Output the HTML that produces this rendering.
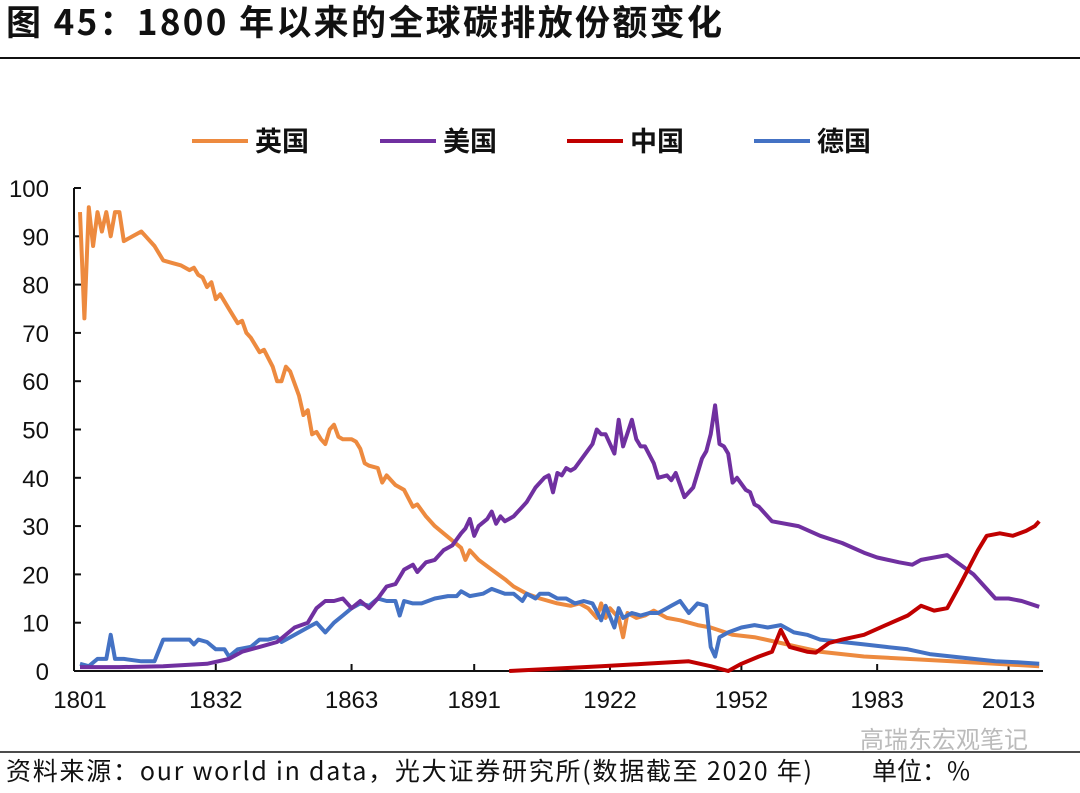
<!DOCTYPE html>
<html><head><meta charset="utf-8">
<style>
body{margin:0;background:#fff;width:1080px;height:788px;overflow:hidden;font-family:"Liberation Sans","Noto Sans CJK SC",sans-serif;}
</style></head>
<body>
<svg id="chart" width="1080" height="788" xmlns="http://www.w3.org/2000/svg" font-family="Liberation Sans, Noto Sans CJK SC, sans-serif">
<text x="6" y="35" font-size="35" font-weight="bold" fill="#111" font-family="Noto Sans CJK SC, sans-serif" textLength="716">图 45：1800 年以来的全球碳排放份额变化</text>
<line x1="0" y1="58" x2="1080" y2="58" stroke="#111" stroke-width="2"/>
<g id="legend" font-size="27" font-family="Noto Sans CJK SC, sans-serif" font-weight="bold" fill="#111">
<g><line x1="192" y1="141" x2="248" y2="141" stroke="#ED8A3F" stroke-width="4"/><text x="255" y="151">英国</text></g>
<g><line x1="380" y1="141" x2="436" y2="141" stroke="#7030A0" stroke-width="4"/><text x="443" y="151">美国</text></g>
<g><line x1="567" y1="141" x2="623" y2="141" stroke="#C00000" stroke-width="4"/><text x="630" y="151">中国</text></g>
<g><line x1="754" y1="141" x2="810" y2="141" stroke="#4472C4" stroke-width="4"/><text x="817" y="151">德国</text></g>
</g>
<g id="axes"></g>
<g id="series"></g>
<line x1="0" y1="752" x2="1080" y2="752" stroke="#111" stroke-width="1.5"/>
<text x="860" y="748" font-size="24" fill="#bbb" font-family="Noto Sans CJK SC, sans-serif">高瑞东宏观笔记</text>
<text x="6" y="780" font-size="25" fill="#111" font-family="Noto Sans CJK SC, sans-serif" textLength="806">资料来源：our world in data，光大证券研究所(数据截至 2020 年)</text>
<text x="872" y="780" font-size="25" fill="#111" font-family="Noto Sans CJK SC, sans-serif">单位：%</text>
</svg>
<script>
const yTicks=[0,10,20,30,40,50,60,70,80,90,100];
const xTickYears=[1801,1832,1863,1891,1922,1952,1983,2013];
const ukYears=[1801,1802,1803,1804,1805,1806,1807,1808,1809,1810,1811,1813,1815,1816,1818,1820,1822,1824,1826,1827,1828,1829,1830,1831,1832,1833,1835,1837,1838,1839,1840,1842,1843,1845,1846,1847,1848,1849,1851,1852,1853,1854,1855,1856,1857,1858,1859,1860,1861,1863,1864,1865,1866,1867,1869,1870,1871,1873,1875,1877,1878,1880,1882,1884,1886,1888,1889,1890,1892,1895,1898,1900,1903,1906,1910,1913,1915,1917,1919,1920,1921,1922,1924,1925,1926,1928,1930,1932,1935,1938,1942,1945,1950,1955,1960,1965,1970,1975,1980,1990,2000,2010,2020];
const ukValues=[95,73,96,88,95,91,95,90,95,95,89,90,91,90,88,85,84.5,84,83,83.5,82,81.5,79.5,80.5,77,78,75,72,72.5,70,69,66,66.5,63,60,60,63,62,57,53,54,49,49.5,48,47,50,51,48.5,48,48,47.5,46,43,42.5,42,39,40.5,38.5,37.5,34,34.5,32,30,28.5,27,25.5,23,25,23,21,19,17.5,16,15,14,13.5,14,13,11,14,11,13,11,7,12,11,11.5,12.5,11,10.5,9.5,9,7.5,7,6,5,4,3.5,3,2.5,2,1.5,1];
const usYears=[1801,1810,1820,1830,1835,1838,1842,1846,1850,1853,1855,1857,1859,1861,1863,1865,1867,1869,1871,1873,1875,1877,1878,1880,1882,1884,1886,1888,1889,1890,1891,1892,1894,1895,1896,1897,1898,1900,1902,1903,1905,1907,1908,1909,1910,1911,1912,1913,1914,1916,1918,1919,1920,1921,1923,1924,1925,1927,1928,1929,1930,1932,1933,1935,1936,1937,1938,1939,1941,1943,1944,1945,1946,1947,1948,1949,1950,1951,1953,1954,1955,1956,1959,1965,1970,1975,1980,1983,1988,1991,1993,1999,2002,2005,2008,2010,2013,2016,2020];
const usValues=[0.8,0.8,1,1.5,2.5,4,5,6,9,10,13,14.5,14.5,15,13,14.5,13,15,17.5,18,21,22,20.5,22.5,23,25,26,28.5,29.5,31.5,28,30,31.5,33,30.5,32,31,32,34,35,38,40,40.5,37,41,40.5,42,41.5,42,44.5,47,50,49,49,45,52,46.5,52,48,46.5,46.5,43,40,40.5,39.5,41,38.5,36,38,44,45.5,49,55,47,46.5,45,39,40,37.5,37,34.5,34,31,30,28,26.5,24.5,23.5,22.5,22,23,24,22,20,17,15,15,14.5,13.3];
const cnYears=[1899,1920,1930,1940,1945,1949,1952,1956,1959,1961,1963,1967,1969,1972,1975,1980,1985,1990,1993,1996,1999,2002,2006,2008,2011,2014,2017,2019,2020];
const cnValues=[0,1,1.5,2,1,0,1.5,3,4,8.5,5,4,3.8,5.8,6.5,7.5,9.5,11.5,13.5,12.5,13,18,25,28,28.5,28,29,30,31];
const deYears=[1801,1803,1805,1807,1808,1809,1811,1815,1818,1820,1822,1824,1826,1827,1828,1830,1832,1834,1835,1837,1840,1842,1844,1846,1847,1849,1851,1853,1855,1857,1859,1861,1863,1865,1867,1869,1871,1873,1874,1875,1877,1879,1882,1885,1887,1888,1890,1893,1895,1898,1900,1902,1903,1905,1906,1908,1910,1912,1914,1916,1918,1920,1921,1923,1924,1925,1927,1929,1931,1933,1935,1936,1938,1940,1942,1944,1945,1946,1947,1949,1952,1955,1958,1961,1964,1967,1970,1975,1980,1985,1990,1995,2000,2005,2010,2015,2020];
const deValues=[1.5,1,2.5,2.5,7.5,2.5,2.5,2,2,6.5,6.5,6.5,6.5,5.5,6.5,6,4.5,4.5,3,4.5,5,6.5,6.5,7,6,7,8,9,10,8,10,11.5,13,14,13.5,15,14.5,14.5,11.5,14.5,14,14,15,15.5,15.5,16.5,15.5,16,17,16,16,14.5,16,15,16,16,15,15,14,14.5,14,10.5,13.5,9,13,11,12,11.5,12,12,13,13.5,14.5,12,14,13.5,5,3,7,8,9,9.5,9,9.5,8,7.5,6.5,6,5.5,5,4.5,3.5,3,2.5,2,1.8,1.5];

const NS='http://www.w3.org/2000/svg';
const X0=80, PXY=4.38, Y0=671, PXV=4.83;
const xs=y=>X0+(y-1801)*PXY;
const ys=v=>Y0-v*PXV;
const axes=document.getElementById('axes');
const series=document.getElementById('series');
function mk(tag,attrs,parent){const e=document.createElementNS(NS,tag);for(const k in attrs)e.setAttribute(k,attrs[k]);parent.appendChild(e);return e;}
const yAxis=mk('line',{x1:74,y1:ys(100),x2:74,y2:Y0,stroke:'#111','stroke-width':2},axes);


const xAxis=mk('line',{x1:74,y1:Y0,x2:1043,y2:Y0,stroke:'#111','stroke-width':2},axes);


yTicks.forEach(v=>{
  const t=mk('line',{x1:74,y1:ys(v),x2:81,y2:ys(v),stroke:'#111','stroke-width':2},axes);
  
  
  const l=mk('text',{x:49,y:ys(v)+9,'text-anchor':'end','font-size':24,fill:'#111'},axes);
  
  
  l.textContent=v;
});
xTickYears.forEach((yr,i)=>{
  if(i>0){const t=mk('line',{x1:xs(yr),y1:Y0,x2:xs(yr),y2:Y0-7,stroke:'#111','stroke-width':2},axes);
  
  }
  const l=mk('text',{x:xs(yr),y:708,'text-anchor':'middle','font-size':24,fill:'#111'},axes);
  
  
  l.textContent=yr;
});
function draw(years,vals,color,name){
  const d=years.map((y,i)=>(i?'L':'M')+xs(y).toFixed(1)+' '+ys(vals[i]).toFixed(1)).join(' ');
  const p=mk('path',{d:d,fill:'none',stroke:color,'stroke-width':4,'stroke-linejoin':'round'},series);
  
  
}
draw(ukYears,ukValues,'#ED8A3F','line-uk');
draw(deYears,deValues,'#4472C4','line-germany');
draw(usYears,usValues,'#7030A0','line-us');
draw(cnYears,cnValues,'#C00000','line-china');
</script>
</body></html>
